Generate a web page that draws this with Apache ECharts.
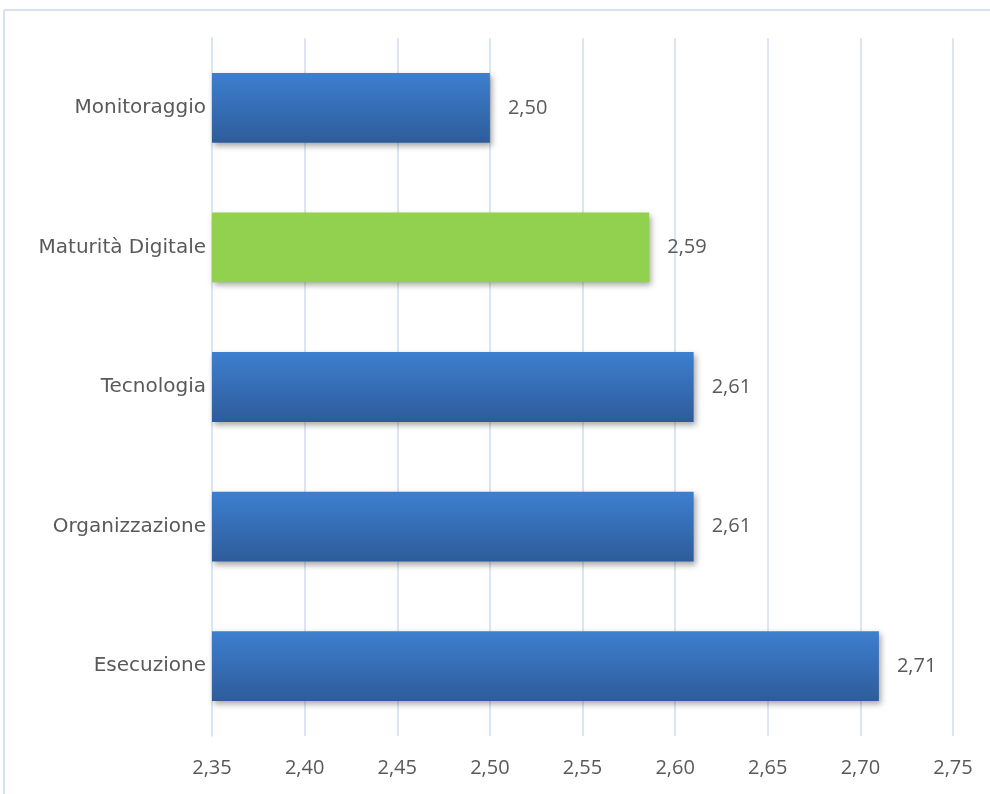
<!DOCTYPE html>
<html>
<head>
<meta charset="utf-8">
<script src="https://cdn.jsdelivr.net/npm/echarts@6/dist/echarts.min.js"></script>
<style>
html,body{margin:0;padding:0;background:#fff;}
#main{width:990px;height:794px;}
</style>
</head>
<body>
<div id="main"></div>
<script>
var categories = ['Esecuzione', 'Organizzazione', 'Tecnologia', 'Maturità Digitale', 'Monitoraggio'];
var values = [2.71, 2.61, 2.61, 2.586, 2.50];
var highlight = 'Maturità Digitale';
var xTicks = [2.35, 2.40, 2.45, 2.50, 2.55, 2.60, 2.65, 2.70, 2.75];

var blueGrad = {
  type: 'linear', x: 0, y: 0, x2: 0, y2: 1,
  colorStops: [{offset: 0, color: '#3d7fcf'}, {offset: 1, color: '#2e5c9a'}]
};
var green = '#92d050';

var chart = echarts.init(document.getElementById('main'));
chart.setOption({
  animation: false,
  backgroundColor: '#ffffff',
  graphic: [
    {type: 'line', shape: {x1: 4, y1: 10, x2: 990, y2: 10}, style: {stroke: '#d6e2f0', lineWidth: 2}},
    {type: 'line', shape: {x1: 4, y1: 10, x2: 4, y2: 794}, style: {stroke: '#d6e2f0', lineWidth: 2}}
  ],
  grid: {left: 212, right: 37, top: 38, bottom: 58, containLabel: false},
  xAxis: {
    type: 'value',
    min: 2.35, max: 2.75, interval: 0.05,
    axisLine: {show: false},
    axisTick: {show: false},
    splitLine: {show: true, lineStyle: {color: '#dbe6f4', width: 2}},
    axisLabel: {
      color: '#595959', fontSize: 20, fontFamily: 'Open Sans', margin: 22,
      formatter: function (v) { return v.toFixed(2).replace('.', ','); }
    }
  },
  yAxis: {
    type: 'category',
    data: categories,
    axisLine: {show: true, lineStyle: {color: '#dbe6f4', width: 2}},
    axisTick: {show: false},
    axisLabel: {
      color: '#595959', fontSize: 20, fontFamily: 'DejaVu Sans', margin: 6
    }
  },
  series: [{
    type: 'bar',
    barCategoryGap: '50%',
    data: values.map(function (v, i) {
      return {
        value: v,
        itemStyle: {
          color: categories[i] === highlight ? green : blueGrad,
          shadowColor: 'rgba(0,0,0,0.35)', shadowBlur: 6, shadowOffsetX: 2, shadowOffsetY: 3
        }
      };
    }),
    label: {
      show: true, position: 'right', distance: 18,
      color: '#595959', fontSize: 20, fontFamily: 'Open Sans',
      formatter: function (p) { return (Math.round(p.value * 100) / 100).toFixed(2).replace('.', ','); }
    }
  }]
});
</script>
</body>
</html>
